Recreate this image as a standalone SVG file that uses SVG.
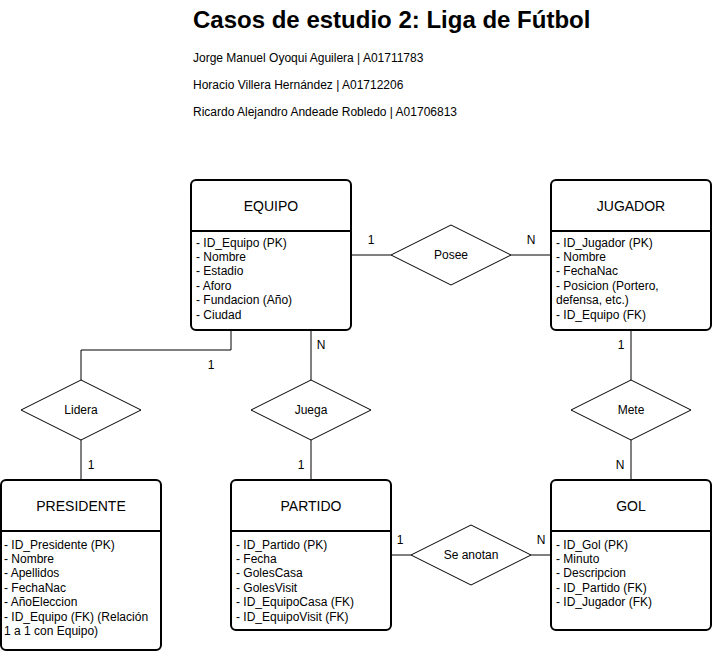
<svg xmlns="http://www.w3.org/2000/svg" width="712" height="652" viewBox="0 0 712 652">
<style>
text{font-family:"Liberation Sans",Arial,sans-serif;fill:#000}
.title{font-size:24px;font-weight:bold}
.auth{font-size:12px}
.ent{fill:#fff;stroke:#000;stroke-width:2}
.div{stroke:#000;stroke-width:2}
.eh{font-size:14px;text-anchor:middle}
.attr{font-size:12px}
.rel{fill:#fff;stroke:#000;stroke-width:1}
.rl{font-size:12px;text-anchor:middle}
.card{font-size:12px;text-anchor:middle}
.conn{fill:none;stroke:#000;stroke-width:1}
</style>
<text class="title" x="193" y="28">Casos de estudio 2: Liga de Fútbol</text>
<text class="auth" x="193" y="62">Jorge Manuel Oyoqui Aguilera | A01711783</text>
<text class="auth" x="193" y="89">Horacio Villera Hernández | A01712206</text>
<text class="auth" x="193" y="116">Ricardo Alejandro Andeade Robledo | A01706813</text>

<g id="connectors">
<path class="conn" d="M351 255H391M511 255H551"/>
<path class="conn" d="M231 330V350H81V380M81 440V480"/>
<path class="conn" d="M311 330V380M311 440V480"/>
<path class="conn" d="M631 330V380M631 440V480"/>
<path class="conn" d="M391 555H411M531 555H551"/>
<text class="card" x="371" y="244">1</text>
<text class="card" x="531" y="244">N</text>
<text class="card" x="211" y="369">1</text>
<text class="card" x="91" y="469">1</text>
<text class="card" x="321" y="349">N</text>
<text class="card" x="301" y="469">1</text>
<text class="card" x="621" y="349">1</text>
<text class="card" x="620" y="469">N</text>
<text class="card" x="400" y="544">1</text>
<text class="card" x="541" y="544">N</text>
</g>

<g id="equipo">
<rect class="ent" x="191" y="180" width="160" height="150" rx="5"/>
<line class="div" x1="191" y1="231" x2="351" y2="231"/>
<text class="eh" x="271" y="210.5">EQUIPO</text>
<text class="attr" x="196"><tspan x="196" y="246.5">- ID_Equipo (PK)</tspan><tspan x="196" dy="14.4">- Nombre</tspan><tspan x="196" dy="14.4">- Estadio</tspan><tspan x="196" dy="14.4">- Aforo</tspan><tspan x="196" dy="14.4">- Fundacion (Año)</tspan><tspan x="196" dy="14.4">- Ciudad</tspan></text>
</g>

<g id="jugador">
<rect class="ent" x="551" y="180" width="160" height="150" rx="5"/>
<line class="div" x1="551" y1="231" x2="711" y2="231"/>
<text class="eh" x="631" y="210.5">JUGADOR</text>
<text class="attr" x="556"><tspan x="556" y="246.5">- ID_Jugador (PK)</tspan><tspan x="556" dy="14.4">- Nombre</tspan><tspan x="556" dy="14.4">- FechaNac</tspan><tspan x="556" dy="14.4">- Posicion (Portero,</tspan><tspan x="556" dy="14.4">defensa, etc.)</tspan><tspan x="556" dy="14.4">- ID_Equipo (FK)</tspan></text>
</g>

<g id="presidente">
<rect class="ent" x="1" y="480" width="160" height="170" rx="5"/>
<line class="div" x1="1" y1="531" x2="161" y2="531"/>
<text class="eh" x="81" y="510.5">PRESIDENTE</text>
<text class="attr" x="4"><tspan x="4" y="548.5">- ID_Presidente (PK)</tspan><tspan x="4" dy="14.4">- Nombre</tspan><tspan x="4" dy="14.4">- Apellidos</tspan><tspan x="4" dy="14.4">- FechaNac</tspan><tspan x="4" dy="14.4">- AñoEleccion</tspan><tspan x="4" dy="14.4">- ID_Equipo (FK) (Relación</tspan><tspan x="4" dy="14.4">1 a 1 con Equipo)</tspan></text>
</g>

<g id="partido">
<rect class="ent" x="231" y="480" width="160" height="150" rx="5"/>
<line class="div" x1="231" y1="531" x2="391" y2="531"/>
<text class="eh" x="311" y="510.5">PARTIDO</text>
<text class="attr" x="236"><tspan x="236" y="548.5">- ID_Partido (PK)</tspan><tspan x="236" dy="14.4">- Fecha</tspan><tspan x="236" dy="14.4">- GolesCasa</tspan><tspan x="236" dy="14.4">- GolesVisit</tspan><tspan x="236" dy="14.4">- ID_EquipoCasa (FK)</tspan><tspan x="236" dy="14.4">- ID_EquipoVisit (FK)</tspan></text>
</g>

<g id="gol">
<rect class="ent" x="551" y="480" width="160" height="150" rx="5"/>
<line class="div" x1="551" y1="531" x2="711" y2="531"/>
<text class="eh" x="631" y="510.5">GOL</text>
<text class="attr" x="556"><tspan x="556" y="548.5">- ID_Gol (PK)</tspan><tspan x="556" dy="14.4">- Minuto</tspan><tspan x="556" dy="14.4">- Descripcion</tspan><tspan x="556" dy="14.4">- ID_Partido (FK)</tspan><tspan x="556" dy="14.4">- ID_Jugador (FK)</tspan></text>
</g>

<g id="posee">
<polygon class="rel" points="391,255 451,225 511,255 451,285"/>
<text class="rl" x="451" y="259">Posee</text>
</g>
<g id="lidera">
<polygon class="rel" points="21,410 81,380 141,410 81,440"/>
<text class="rl" x="81" y="414">Lidera</text>
</g>
<g id="juega">
<polygon class="rel" points="251,410 311,380 371,410 311,440"/>
<text class="rl" x="311" y="414">Juega</text>
</g>
<g id="mete">
<polygon class="rel" points="571,410 631,380 691,410 631,440"/>
<text class="rl" x="631" y="414">Mete</text>
</g>
<g id="se_anotan">
<polygon class="rel" points="411,555 471,525 531,555 471,585"/>
<text class="rl" x="471" y="559">Se anotan</text>
</g>
</svg>
